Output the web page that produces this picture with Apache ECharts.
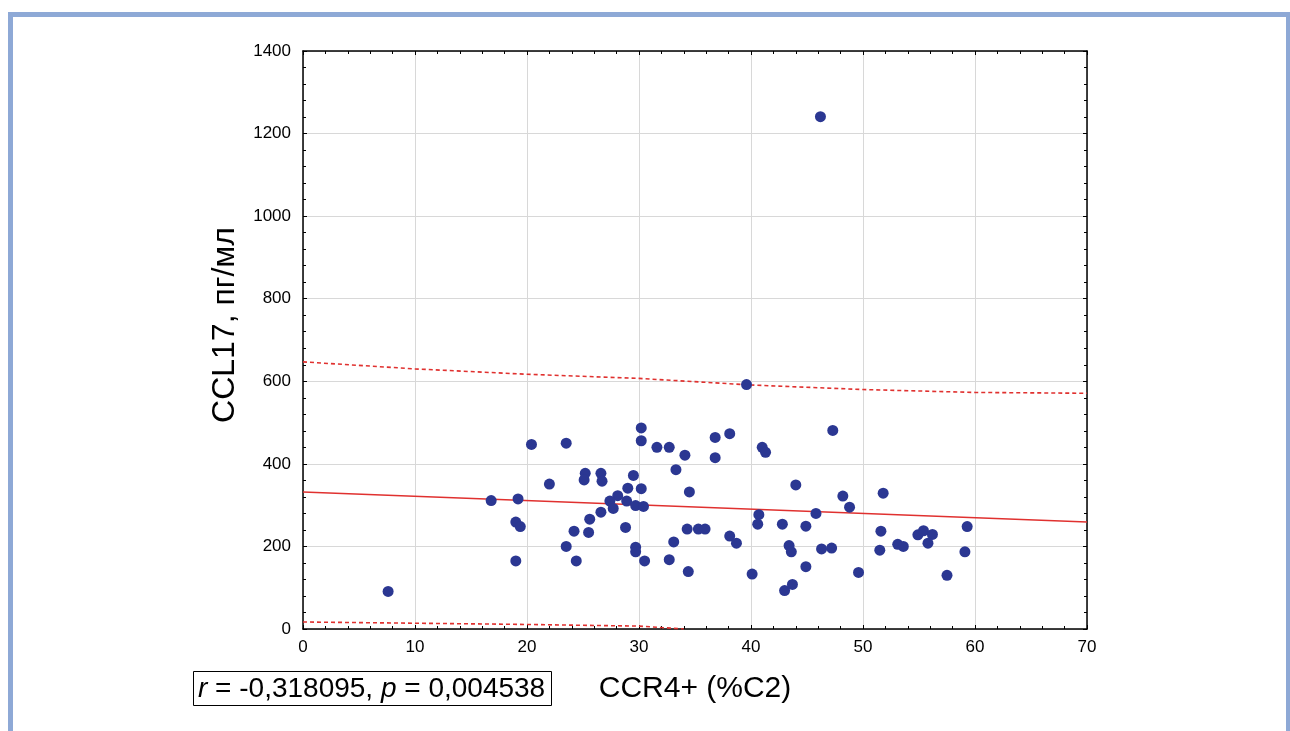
<!DOCTYPE html>
<html>
<head>
<meta charset="utf-8">
<script src="https://cdn.jsdelivr.net/npm/echarts@6/dist/echarts.min.js"></script>
<style>
  html, body { margin: 0; padding: 0; background: #fff; }
  #frame {
    position: absolute; left: 8px; top: 12px; width: 1273px; height: 740px;
    border-left: 5px solid #8ea9d6; border-top: 5px solid #8ea9d6; border-right: 4px solid #8ea9d6;
    background: #fff;
  }
  #chart { position: absolute; left: 0; top: 0; width: 1290px; height: 731px; }
</style>
</head>
<body>
<div id="frame"></div>
<div id="chart"></div>
<script>
// точки: CCR4+ (%C2) и CCL17, пг/мл
var ccr4 = [7.6, 16.8, 19.2, 19.0, 19.4, 19.0, 20.4, 23.5, 22.0, 25.2, 25.1, 26.6, 26.7, 29.5, 29.0, 28.1,
  27.4, 27.7, 26.6, 25.6, 24.2, 25.5, 23.5, 24.4, 28.9, 29.7, 30.4, 30.2, 30.2, 30.2, 28.8, 29.7,
  29.7, 30.5, 31.6, 32.7, 34.1, 33.3, 34.5, 34.3, 35.3, 35.9, 33.1, 32.7, 34.4, 36.8, 38.1, 36.8,
  38.1, 38.7, 40.1, 41.0, 41.3, 40.7, 40.6, 42.8, 44.0, 43.4, 43.6, 43.0, 43.7, 44.9, 44.9, 45.8,
  46.3, 47.2, 47.3, 48.2, 48.8, 49.6, 51.8, 51.6, 51.5, 53.1, 53.6, 54.9, 55.4, 56.2, 55.8, 57.5,
  59.3, 59.1, 46.2, 39.6];
var ccl17 = [91, 311, 315, 259, 248, 165, 447, 450, 351, 377, 361, 377, 358, 372, 341, 323,
  310, 292, 283, 266, 237, 234, 200, 165, 310, 299, 297, 340, 487, 456, 246, 198,
  187, 165, 440, 440, 421, 386, 332, 242, 242, 242, 211, 168, 139, 464, 473, 415,
  225, 208, 133, 440, 428, 277, 254, 254, 349, 202, 187, 93, 108, 249, 151, 280,
  194, 196, 481, 322, 295, 137, 329, 237, 191, 205, 200, 228, 238, 229, 208, 130,
  248, 187, 1241, 592];

// линия регрессии и границы
var fitX = [0, 70];
var fitY = [332, 259];
var bandX = [0, 10, 20, 30, 40, 50, 60, 70];
var upperY = [647, 630, 617, 607, 591, 580, 573, 571];
var lowerX = [0, 10, 20, 30, 34];
var lowerY = [17, 14, 11, 7, 0];

var xTicks = [0, 70, 10];
var yTicks = [0, 1400, 200];

var font = '"Liberation Sans", Arial, sans-serif';
var red = '#e0312f';

function pairs(a, b) {
  var out = [];
  for (var i = 0; i < a.length; i++) out.push([a[i], b[i]]);
  return out;
}

var myChart = echarts.init(document.getElementById('chart'));

var axisCommon = {
  axisLine: { show: true, onZero: false, lineStyle: { color: '#000', width: 1.5 } },
  axisTick: { show: true, inside: true, length: 4, lineStyle: { color: '#000' } },
  minorTick: { show: true, splitNumber: 5, length: 3, lineStyle: { color: '#000' } }
};

myChart.setOption({
  animation: false,
  backgroundColor: 'transparent',
  grid: { left: 303, top: 51, width: 784, height: 578 },
  title: {
    text: '{i|r} = -0,318095, {i|p} = 0,004538',
    left: 193, top: 671,
    padding: [4, 7, 3, 5],
    borderColor: '#000', borderWidth: 1,
    backgroundColor: '#fff',
    textStyle: {
      fontFamily: font, fontSize: 28, fontWeight: 'normal', color: '#000',
      rich: { i: { fontStyle: 'italic', fontFamily: font, fontSize: 28, color: '#000' } }
    }
  },
  xAxis: [
    Object.assign({
      type: 'value', min: xTicks[0], max: xTicks[1], interval: xTicks[2],
      name: 'CCR4+ (%C2)', nameLocation: 'middle', nameGap: 45,
      nameTextStyle: { fontFamily: font, fontSize: 30, color: '#000' },
      axisLabel: { fontFamily: font, fontSize: 17, color: '#000', margin: 10 },
      splitLine: { show: true, lineStyle: { color: '#d8d8d8', width: 1 } }
    }, axisCommon),
    Object.assign({
      type: 'value', position: 'top', min: xTicks[0], max: xTicks[1], interval: xTicks[2],
      axisLabel: { show: false }, splitLine: { show: false }
    }, axisCommon)
  ],
  yAxis: [
    Object.assign({
      type: 'value', min: yTicks[0], max: yTicks[1], interval: yTicks[2],
      name: 'CCL17, пг/мл', nameLocation: 'middle', nameGap: 62, nameRotate: 90,
      nameTextStyle: { fontFamily: font, fontSize: 32, color: '#000', padding: [0, 0, 0, 30] },
      axisLabel: {
        fontFamily: font, fontSize: 17, color: '#000', margin: 12,
        formatter: function (v) { return String(v); }
      },
      splitLine: { show: true, lineStyle: { color: '#d8d8d8', width: 1 } }
    }, axisCommon),
    Object.assign({
      type: 'value', position: 'right', min: yTicks[0], max: yTicks[1], interval: yTicks[2],
      axisLabel: { show: false }, splitLine: { show: false }
    }, axisCommon)
  ],
  series: [
    {
      type: 'line', data: pairs(fitX, fitY), showSymbol: false, silent: true,
      lineStyle: { color: red, width: 1.5 }, z: 2
    },
    {
      type: 'line', data: pairs(bandX, upperY), showSymbol: false, silent: true,
      lineStyle: { color: red, width: 1.6, type: [4, 3] }, z: 2
    },
    {
      type: 'line', data: pairs(lowerX, lowerY), showSymbol: false, silent: true,
      lineStyle: { color: red, width: 1.6, type: [4, 3] }, z: 2
    },
    {
      type: 'scatter', data: pairs(ccr4, ccl17), symbolSize: 11,
      itemStyle: { color: '#2b3792', opacity: 1 }, z: 3
    }
  ]
});
window.onresize = function () {
  myChart.resize();
};
</script>
</body>
</html>
